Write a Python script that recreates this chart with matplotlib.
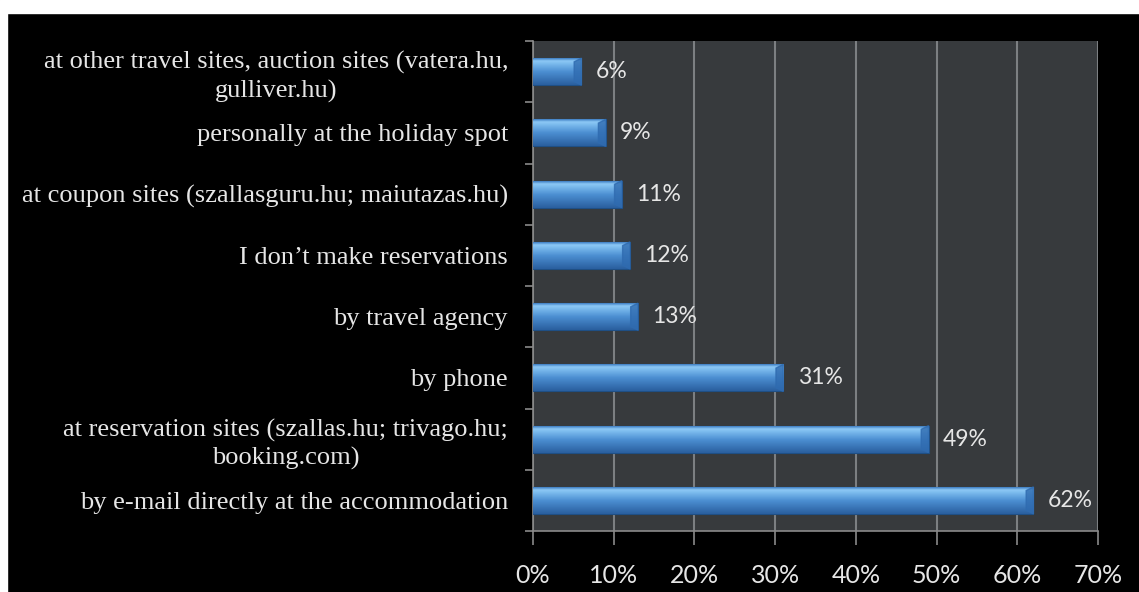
import numpy as np
import matplotlib
matplotlib.use('Agg')
import matplotlib.pyplot as plt
from matplotlib.colors import LinearSegmentedColormap
from matplotlib.patches import Rectangle

# data, bottom bar first
labels = ['by e-mail directly at the accommodation',
          'at reservation sites (szallas.hu; trivago.hu;\nbooking.com)',
          'by phone',
          'by travel agency',
          'I don\u2019t make reservations',
          'at coupon sites (szallasguru.hu; maiutazas.hu)',
          'personally at the holiday spot',
          'at other travel sites, auction sites (vatera.hu,\ngulliver.hu)']
values = [62, 49, 31, 13, 12, 11, 9, 6]
xticks = [0, 10, 20, 30, 40, 50, 60, 70]

W, H = 1139, 592
fig = plt.figure(figsize=(W / 100, H / 100), dpi=100, facecolor='black')
ax = fig.add_axes([533 / W, 1 - 531 / H, (1098 - 533) / W, (531 - 41) / H])
ax.set_facecolor('#373a3d')

# white strips at left and top of the screenshot
fig.add_artist(Rectangle((0, 0), 7 / W, 1, transform=fig.transFigure, color='white', zorder=10))
fig.add_artist(Rectangle((0, 1 - 13 / H), 1, 13 / H, transform=fig.transFigure, color='white', zorder=10))

y = np.arange(len(values))
bh = 0.44
bars = ax.barh(y, values, height=bh, color='#4a8fd4', edgecolor='#1f4f85', linewidth=0.8, zorder=3)

cmap = LinearSegmentedColormap.from_list('bar', [
    (0.0, '#2a5f9f'), (0.5, '#4c8fd2'), (0.78, '#78b8ec'), (0.9, '#8cc8f5'), (1.0, '#3f7fc4')])
grad = np.linspace(0, 1, 64).reshape(-1, 1)
for b, v, yy in zip(bars, values, y):
    im = ax.imshow(grad, cmap=cmap, aspect='auto', origin='lower',
                   extent=(0, v, yy - bh / 2, yy + bh / 2), zorder=3.5)
    im.set_clip_path(b)
    # bevelled end
    ax.fill([v - 0.9, v, v, v - 0.9], [yy + bh / 2 - 0.06, yy + bh / 2, yy - bh / 2, yy - bh / 2 + 0.06],
            color='#2f6bb0', zorder=4, alpha=0.8)
    ax.text(v + 1.8, yy, f'{v}%', color='#e6e6e6', fontsize=16.5, family='Lato',
            va='center', ha='left', zorder=5)

ax.set_xlim(0, 70)
ax.set_ylim(-0.5, len(values) - 0.5)
ax.set_xticks(xticks)
ax.set_xticklabels([f'{t}%' for t in xticks], color='#e6e6e6', fontsize=18, family='Lato')
ax.set_yticks(y)
ax.set_yticklabels(labels, color='#e6e6e6', fontsize=19, family='Liberation Serif',
                   multialignment='center', linespacing=1.3)
ax.set_yticks(np.arange(len(values) + 1) - 0.5, minor=True)
ax.tick_params(axis='y', which='major', length=0, pad=18)
ax.tick_params(axis='y', which='minor', length=6, color='#8a8a8a', width=1.2)
ax.tick_params(axis='x', length=10, color='#8a8a8a', width=1.2, pad=14)
ax.grid(axis='x', color='#7c7f82', linewidth=1.5, zorder=1)
ax.set_axisbelow(True)
for s in ['top', 'right']:
    ax.spines[s].set_visible(False)
for s in ['left', 'bottom']:
    ax.spines[s].set_color('#8a8a8a')
    ax.spines[s].set_linewidth(1.2)

fig.savefig('out.png', dpi=100, facecolor='black')
